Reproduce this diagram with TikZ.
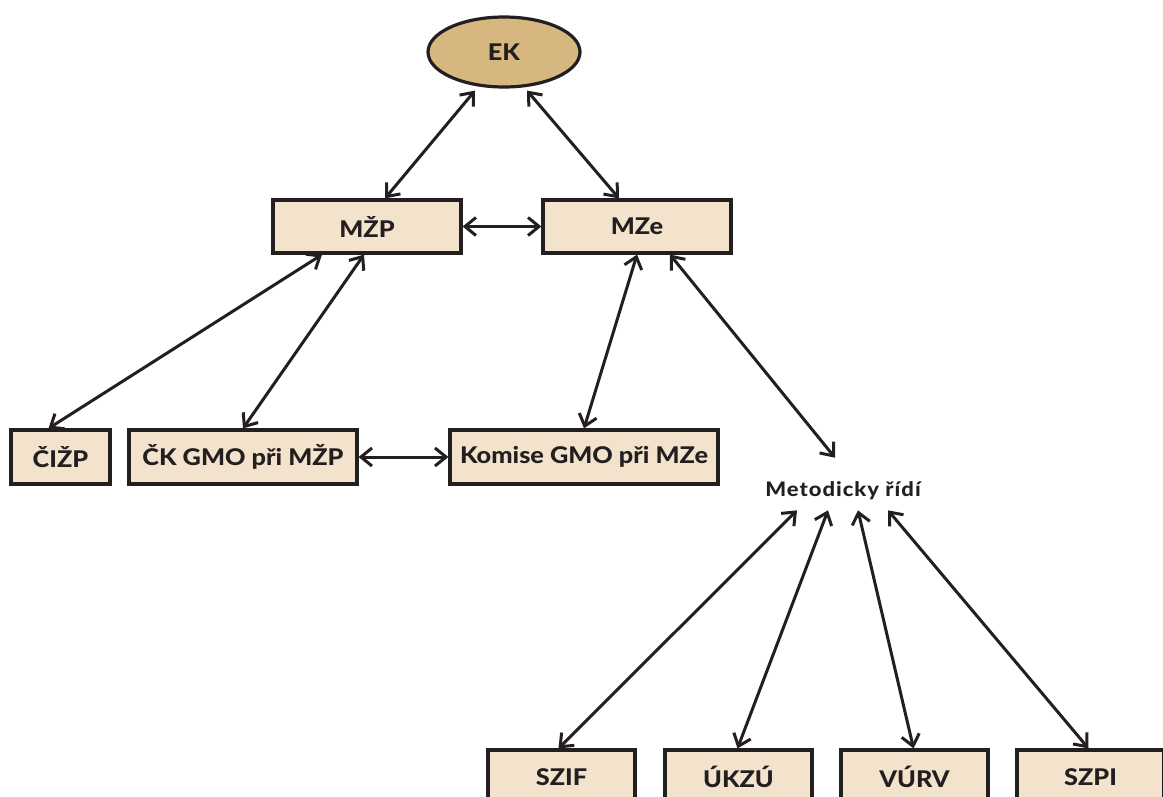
\documentclass[tikz,border=0pt]{standalone}
\usepackage{fontspec}
\setmainfont{Lato}[BoldFont={Lato Heavy},FakeStretch=1.1]
\newfontfamily\metfont{Lato}[BoldFont={Lato Heavy},FakeStretch=1.1,LetterSpace=5]
\usetikzlibrary{arrows.meta,shapes.geometric}
\definecolor{tan}{HTML}{D6B77F}
\definecolor{boxfill}{HTML}{F3E3CC}
\definecolor{ink}{HTML}{231F20}
\tikzset{
  box/.style={draw=ink,fill=boxfill,line width=3.2pt,inner sep=0pt,font=\fontsize{23}{26}\selectfont\bfseries,text=ink,minimum height=54pt},
  link/.style={draw=ink,line width=3pt,{Straight Barb[length=11pt,width=18pt]}-{Straight Barb[length=11pt,width=18pt]}},
  lbl/.style={font=\metfont\fontsize{20}{23}\selectfont\bfseries,text=ink,inner sep=0pt}
}
\begin{document}
\begin{tikzpicture}[x=1pt,y=-1pt]
\useasboundingbox (0,0) rectangle (1163,796);
\node[ellipse,draw=ink,fill=tan,line width=3.2pt,minimum width=152pt,minimum height=70pt,font=\fontsize{23}{26}\selectfont\bfseries,text=ink] (ek) at (504,52) {EK};
\node[box,minimum width=188pt,minimum height=53pt] (mzp) at (367,226.5) {MŽP};
\node[box,minimum width=188pt,minimum height=53pt] (mze) at (637,226.5) {MZe};
\node[box,minimum width=99pt] (cizp) at (60.5,457) {ČIŽP};
\node[box,minimum width=228pt] (ck) at (243,457) {ČK GMO při MŽP};
\node[box,minimum width=268pt] (kom) at (584,457) {Komise GMO při MZe};
\node[lbl] (met) at (843,491) {Metodicky řídí};
\node[box,minimum width=147pt] (szif) at (561.5,777) {SZIF};
\node[box,minimum width=147pt] (ukz) at (738.5,777) {ÚKZÚ};
\node[box,minimum width=147pt] (vurv) at (914.5,777) {VÚRV};
\node[box,minimum width=147pt] (szpi) at (1090.5,777) {SZPI};
\draw[link] ([xshift=-29pt,yshift=-2pt]ek.south) -- ([xshift=18pt]mzp.north);
\draw[link] ([xshift=23pt,yshift=-2pt]ek.south) -- ([xshift=-18pt]mze.north);
\draw[link] (mzp.east) -- (mze.west);
\draw[link] ([xshift=-45pt]mzp.south) -- ([xshift=-12pt]cizp.north);
\draw[link] ([xshift=-3pt]mzp.south) -- (ck.north);
\draw[link] (mze.south) -- (kom.north);
\draw[link] ([xshift=33pt]mze.south) -- ([xshift=-8pt,yshift=24pt]met.north);
\draw[link] (ck.east) -- (kom.west);
\draw[link] ([xshift=-46pt,yshift=-10pt]met.south) -- ([xshift=-3pt]szif.north);
\draw[link] ([xshift=-15pt,yshift=-10pt]met.south) -- ([xshift=-1pt]ukz.north);
\draw[link] ([xshift=15pt,yshift=-10pt]met.south) -- ([xshift=-1pt]vurv.north);
\draw[link] ([xshift=45pt,yshift=-10pt]met.south) -- ([xshift=-2pt]szpi.north);
\end{tikzpicture}
\end{document}
